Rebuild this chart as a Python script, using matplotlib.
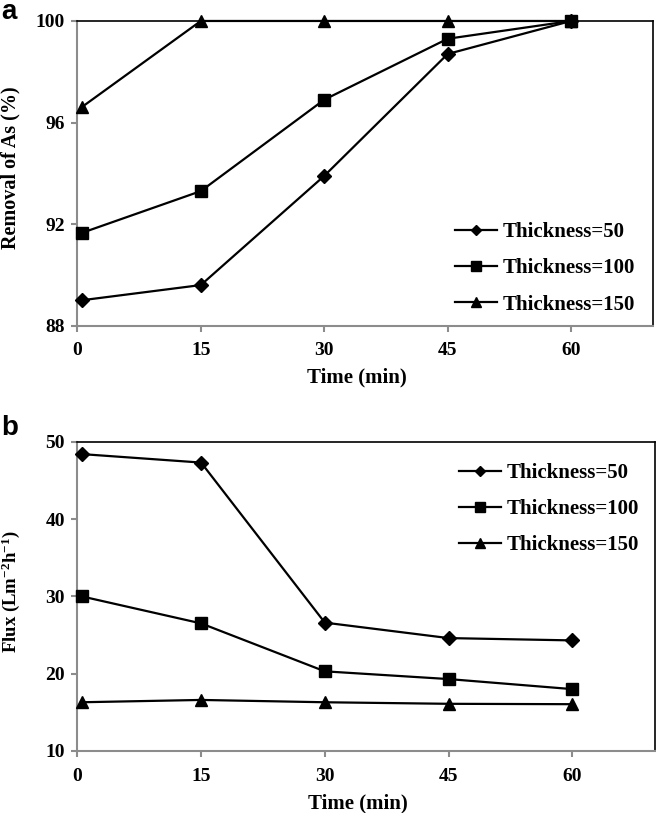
import matplotlib
matplotlib.use("Agg")
import matplotlib.pyplot as plt

time = [0.5, 15, 30, 45, 60]
labels = ["Thickness=50", "Thickness=100", "Thickness=150"]
removal_50 = [89.0, 89.6, 93.9, 98.7, 100.0]
removal_100 = [91.65, 93.3, 96.9, 99.3, 100.0]
removal_150 = [96.6, 100.0, 100.0, 100.0, 100.0]
flux_50 = [48.4, 47.3, 26.6, 24.6, 24.3]
flux_100 = [30.0, 26.5, 20.3, 19.3, 18.0]
flux_150 = [16.3, 16.6, 16.3, 16.1, 16.05]
xticks = [0, 15, 30, 45, 60]
yticks_a = [88, 92, 96, 100]
yticks_b = [10, 20, 30, 40, 50]

plt.rcParams['font.family'] = ['Liberation Serif', 'DejaVu Serif']
plt.rcParams['font.weight'] = 'bold'
plt.rcParams['mathtext.fontset'] = 'custom'
plt.rcParams['mathtext.rm'] = 'Liberation Serif:bold'
plt.rcParams['mathtext.bf'] = 'Liberation Serif:bold'
plt.rcParams['mathtext.it'] = 'Liberation Serif:bold'
plt.rcParams['mathtext.default'] = 'regular'

fig = plt.figure(figsize=(6.56, 8.13), dpi=100)
ax1 = fig.add_axes([0.118, 0.5994, 0.878, 0.3748])
ax2 = fig.add_axes([0.118, 0.0763, 0.880, 0.3804])

markers = ['D', 's', '^']
msizes = [7, 9, 9]
grey = '#8c8c8c'

def style(ax, yticks, ylim, ylabel, ylab_y, ylab_size):
    ax.set_xlim(0, 70)
    ax.set_ylim(*ylim)
    ax.set_xticks(xticks)
    ax.set_yticks(yticks)
    for s in ['left', 'bottom']:
        ax.spines[s].set_color(grey)
        ax.spines[s].set_linewidth(1.5)
    for s in ['top', 'right']:
        ax.spines[s].set_color('black')
        ax.spines[s].set_linewidth(1.2)
    ax.tick_params(axis='both', direction='out', length=4, width=1.5,
                   color=grey, labelsize=14)
    ax.tick_params(axis='x', pad=8)
    ax.tick_params(axis='y', pad=5)
    for lab in ax.get_xticklabels() + ax.get_yticklabels():
        lab.set_fontweight('bold')
    ax.set_xlabel('Time (min)', fontsize=15, fontweight='bold')
    ax.xaxis.set_label_coords(0.485, -0.137)
    ax.set_ylabel(ylabel, fontsize=ylab_size, fontweight='bold', va='center')
    ax.yaxis.set_label_coords(-0.116, ylab_y)

series_a = [removal_50, removal_100, removal_150]
series_b = [flux_50, flux_100, flux_150]

for ys, m, ms, lab in zip(series_a, markers, msizes, labels):
    ax1.plot(time, ys, color='black', lw=1.6, marker=m, markersize=ms,
             label=lab, clip_on=False, zorder=3)
for ys, m, ms, lab in zip(series_b, markers, msizes, labels):
    ax2.plot(time, ys, color='black', lw=1.6, marker=m, markersize=ms,
             label=lab, clip_on=False, zorder=3)

style(ax1, yticks_a, (88, 100), 'Removal of As (%)', 0.519, 14.5)
style(ax2, yticks_b, (10, 50), 'Flux (Lm$^{-2}$h$^{-1}$)', 0.516, 13.5)

leg_kw = dict(frameon=False, prop={'weight': 'bold', 'size': 15},
              handlelength=2.0, handletextpad=0.3, labelspacing=0.78,
              borderaxespad=0, borderpad=0, markerscale=0.8)
ax1.legend(loc='upper left', bbox_to_anchor=(455/656, 1 - 222/813),
           bbox_transform=fig.transFigure, **leg_kw)
ax2.legend(loc='upper left', bbox_to_anchor=(459/656, 1 - 463/813),
           bbox_transform=fig.transFigure, **leg_kw)

fig.text(0.002, 1 - 19/813, 'a', fontsize=20, fontweight='bold', family='Liberation Sans',
         va='baseline', ha='left')
fig.text(0.002, 1 - 435/813, 'b', fontsize=20, fontweight='bold', family='Liberation Sans',
         va='baseline', ha='left')

fig.savefig('out.png', dpi=100)
